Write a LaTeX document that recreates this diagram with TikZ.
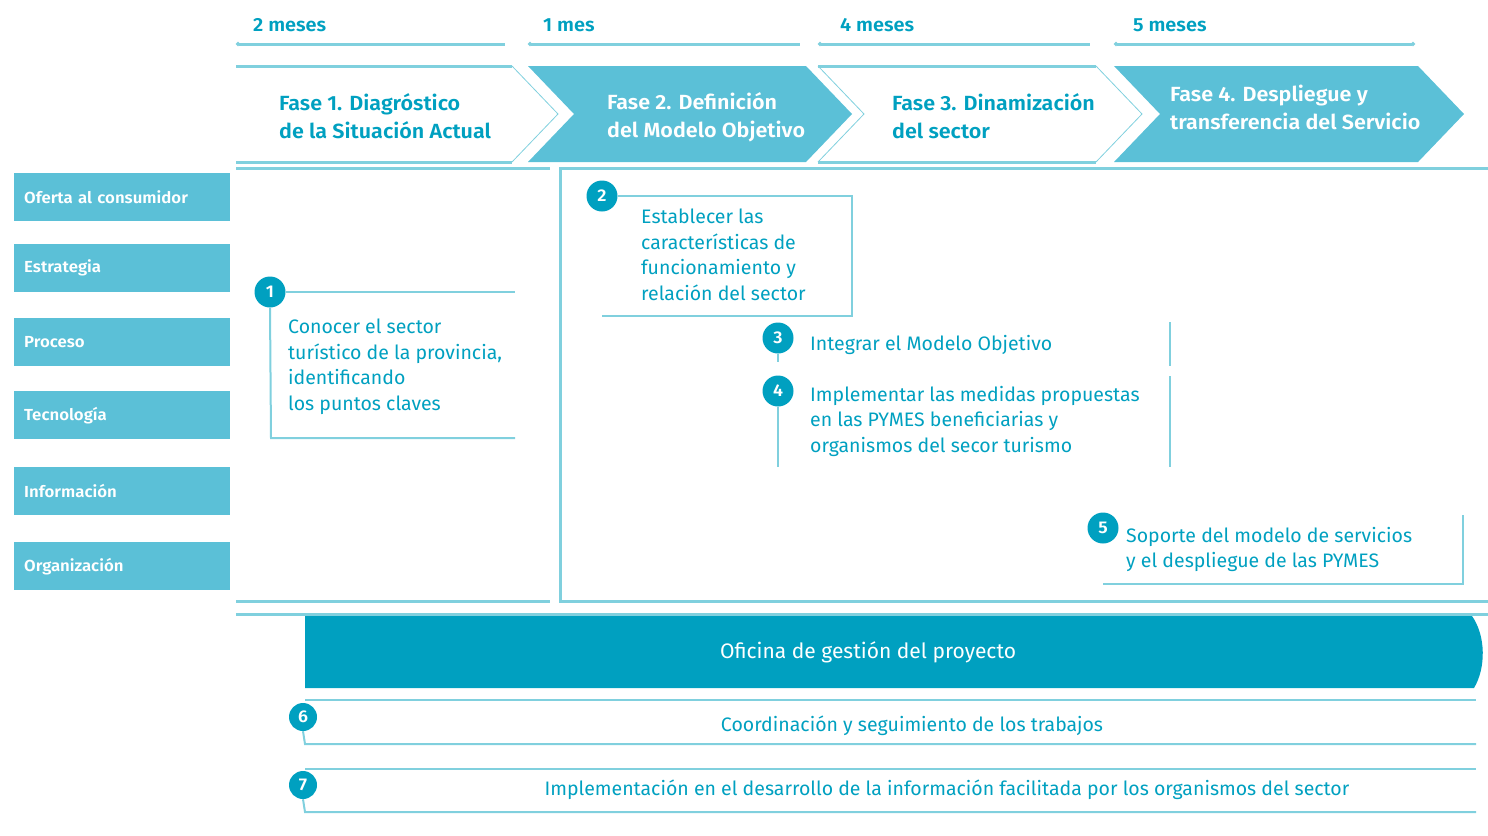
\documentclass[tikz,border=0pt]{standalone}
\usepackage{fontspec}
\setmainfont{Fira Sans}
\newfontfamily\condfont[FakeStretch=1.0]{Fira Sans}
\newfontfamily\condbold[FakeStretch=1.05]{Fira Sans SemiBold}
\usetikzlibrary{arrows.meta}
\definecolor{tealdark}{HTML}{00A0C0}
\definecolor{teallight}{HTML}{5BC0D7}
\definecolor{tealline}{HTML}{80D0DE}
\newcommand{\phasechevron}[2]% left x, right x
{(#1,66) -- (#2,66) -- (#2+46,114) -- (#2,162) -- (#1,162) -- (#1+46,114) -- cycle
}
\tikzset{
  rule/.style={draw=tealline,line width=3pt},
  steprule/.style={draw=tealline,line width=2pt},
  thinrule/.style={draw=tealline,line width=0.8pt},
  numdot/.style={circle,fill=tealdark,text=white,inner sep=0pt,minimum size=31pt,
    font=\condbold\fontsize{17}{17}\selectfont},
  catbox/.style={fill=teallight,text=white,anchor=north west,minimum width=216pt,
    minimum height=48pt,text width=196pt,align=left,inner sep=0pt,
    font=\condbold\fontsize{16}{16}\selectfont},
  steptext/.style={text=tealdark,anchor=north west,align=left,inner sep=0pt,
    font=\condfont\fontsize{19.5}{25.5}\selectfont},
  phasetext/.style={anchor=north west,align=left,inner sep=0pt,
    font=\condbold\fontsize{20.5}{28}\selectfont},
  monthtext/.style={text=tealdark,anchor=west,inner sep=0pt,
    font=\condbold\fontsize{19}{19}\selectfont},
  rowtext/.style={text=tealdark,font=\condfont\fontsize{19.5}{19.5}\selectfont},
}

\begin{document}
\begin{tikzpicture}[x=1pt,y=-1pt]
  \useasboundingbox (0,0) rectangle (1488,835);
  % duration of each phase
  \node[monthtext] (m1) at (253,25) {2 meses};
  \node[monthtext] (m2) at (543,25) {1 mes};
  \node[monthtext] (m3) at (840,25) {4 meses};
  \node[monthtext] (m4) at (1133,25) {5 meses};
  \draw[rule,{Circle[length=4pt]}-] (236,44) -- (505,44);
  \draw[rule,{Circle[length=4pt]}-] (528,44) -- (800,44);
  \draw[rule,{Circle[length=4pt]}-] (818,44) -- (1090,44);
  \draw[rule,{Circle[length=4pt]}-{Circle[length=4pt]}] (1114,44) -- (1415,44);
  % phases
  \draw[rule] (236,66) -- (512,66);
  \draw[rule] (236,162) -- (512,162);
  \draw[thinrule] (512,66) -- (558,114) -- (512,162);
  \fill[teallight] \phasechevron{528}{806};
  \draw[thinrule] (818,66) -- (864,114) -- (818,162);
  \draw[rule] (818,66) -- (1096,66);
  \draw[rule] (818,162) -- (1096,162);
  \draw[thinrule] (1096,66) -- (1142,114) -- (1096,162);
  \fill[teallight] \phasechevron{1114}{1418};
  \node[phasetext,text=tealdark] (f1) at (279,93) {Fase 1. Diagróstico\\de la Situación Actual};
  \node[phasetext,text=white] (f2) at (607,92) {Fase 2. Definición\\del Modelo Objetivo};
  \node[phasetext,text=tealdark] (f3) at (892,93) {Fase 3. Dinamización\\del sector};
  \node[phasetext,text=white] (f4) at (1170,85) {Fase 4. Despliegue y\\transferencia del Servicio};
  % areas
  \node[catbox] (c1) at (14,173) {Oferta al consumidor};
  \node[catbox] (c2) at (14,244) {Estrategia};
  \node[catbox] (c3) at (14,318) {Proceso};
  \node[catbox] (c4) at (14,391) {Tecnología};
  \node[catbox] (c5) at (14,467) {Información};
  \node[catbox] (c6) at (14,542) {Organización};
  % frames of the phases
  \draw[rule] (236,168) -- (550,168);
  \draw[rule] (236,601) -- (550,601);
  \draw[rule] (1488,168) -- (560,168) -- (560,601) -- (1488,601);
  \draw[rule] (236,614) -- (1488,614);
  % steps
  \node[numdot] (s1) at (270,292) {1};
  \draw[steprule] (s1.east) -- (515,292);
  \draw[steprule] (s1.south) -- (271,438) -- (515,438);
  \node[steptext] (t1) at (288,319) {Conocer el sector\\turístico de la provincia,\\identificando\\los puntos claves};
  \node[numdot] (s2) at (602,196) {2};
  \draw[steprule] (s2.east) -- (852,196) -- (852,316) -- (602,316);
  \node[steptext] (t2) at (641,209) {Establecer las\\características de\\funcionamiento y\\relación del sector};
  \node[numdot] (s3) at (778,338) {3};
  \draw[steprule] (s3.south) -- (778,362);
  \draw[steprule] (1170,322) -- (1170,366);
  \node[steptext] (t3) at (810,335) {Integrar el Modelo Objetivo};
  \node[numdot] (s4) at (778,391) {4};
  \draw[steprule] (s4.south) -- (778,467);
  \draw[steprule] (1170,376) -- (1170,467);
  \node[steptext] (t4) at (810,386) {Implementar las medidas propuestas\\en las PYMES beneficiarias y\\organismos del secor turismo};
  \node[numdot] (s5) at (1103,528) {5};
  \draw[steprule] (1463,515) -- (1463,584) -- (1103,584);
  \node[steptext] (t5) at (1126,527) {Soporte del modelo de servicios\\y el despliegue de las PYMES};
  % project office
  \fill[tealdark] (305,616) -- (1472,616) .. controls (1486,636) and (1486,668) .. (1474,688) -- (305,688) -- cycle;
  \node[text=white,font=\condfont\fontsize{21}{21}\selectfont] (of) at (868,652) {Oficina de gestión del proyecto};
  \draw[steprule] (305,700) -- (1476,700);
  \node[numdot,minimum size=28pt] (s6) at (303,717) {6};
  \draw[steprule] (s6.south) -- (305,744) -- (1476,744);
  \node[rowtext] (r6) at (912,726) {Coordinación y seguimiento de los trabajos};
  \draw[steprule] (305,769) -- (1476,769);
  \node[numdot,minimum size=28pt] (s7) at (303,785) {7};
  \draw[steprule] (s7.south) -- (305,812) -- (1476,812);
  \node[rowtext] (r7) at (947,790) {Implementación en el desarrollo de la información facilitada por los organismos del sector};
\end{tikzpicture}
\end{document}
